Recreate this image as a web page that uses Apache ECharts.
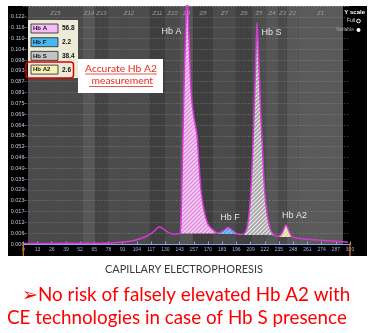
<!DOCTYPE html>
<html><head><meta charset="utf-8">
<script src="https://cdn.jsdelivr.net/npm/echarts@6/dist/echarts.min.js"></script>
<style>html,body{margin:0;padding:0;background:#fff}#c{width:369px;height:333px}</style>
</head><body><div id="c"></div>
<script>
// ---------- data ----------
const xTickLabels = ['0','13','26','39','52','65','78','91','104','117','130','143','157','170','183','196','209','222','235','248','261','274','287','300'];
const yTickLabels = ['0.000','0.006','0.012','0.017','0.023','0.029','0.035','0.040','0.046','0.052','0.058','0.064','0.069','0.075','0.081','0.087','0.093','0.098','0.104','0.110','0.116','0.122'];
const zoneNames = ['Z15','Z14','Z13','Z12','Z11','Z10','Z9','Z8','Z7','Z6','Z5','Z4','Z3','Z2','Z1'];
const zoneEdges = [4.3,54.8,65.8,77.8,116.3,130.1,143.9,155.8,174.2,195.3,210.0,222.9,233.9,242.2,252.3,293.6];
const traceX = [0,20,50,80,100.7,113.6,120,124.9,129,132,136.5,142,144.2,145.3,146.7,148.0,149.4,150.5,151.2,152.6,154.0,156.3,159.5,161.4,163.2,165.9,169.6,174.2,178.8,183.4,188.2,192.6,197.4,199.9,202.7,205.4,207.7,209.5,210.9,212.3,213.7,214.6,215.5,216.9,218.3,219.7,221.0,222.9,225.2,227.5,231.1,233.9,237.6,241.2,244.0,246.7,254.0,270.6,293.6,298.2];
const traceY = [0.0003,0.0003,0.0004,0.0006,0.0018,0.0043,0.0068,0.0093,0.0080,0.0066,0.0054,0.0055,0.0060,0.0236,0.0612,0.0934,0.1203,0.1420,0.1257,0.1042,0.0827,0.0693,0.0585,0.0424,0.0290,0.0183,0.0107,0.0075,0.0059,0.0070,0.0088,0.0070,0.0052,0.0051,0.0054,0.0086,0.0183,0.0344,0.0532,0.0773,0.1042,0.1187,0.1095,0.0881,0.0666,0.0505,0.0344,0.0209,0.0118,0.0070,0.0046,0.0040,0.0059,0.0102,0.0070,0.0038,0.0030,0.0021,0.0012,0.0009];
const fractionNames = ['Hb A','Hb F','Hb S','Hb A2'];
const fractionPercents = [56.8, 2.2, 38.4, 2.6];
const fractionStart = [144.2, 178.8, 202.7, 233.9];
const fractionEnd = [178.8, 197.4, 231.1, 246.7];
const fractionBase = [0.0057, 0.0054, 0.0048, 0.0038];

// ---------- styles ----------
const zoneShades = ['#4a4a4a','#575757','#434343','#4c4c4c','#3f3f3f','#4a4a4a','#555555','#3e3e3e','#4b4b4b','#414141','#4d4d4d','#565656','#4a4a4a','#585858','#5a5a5a'];
const fracBg = ['#e48ee2','#4aa8e8','#a4a4a4','#d6d68c'];
const fracFg = ['#fbe2fa','#8fd0f4','#ececec','#f8f8dc'];
const fracKey = ['#f5bdf5','#48b8ee','#c4c4c4','#f6f0b4'];

function hatch(bg, fg){
  const s = 4, c = document.createElement('canvas'); c.width = c.height = s;
  const g = c.getContext('2d'); g.fillStyle = bg; g.fillRect(0,0,s,s);
  g.strokeStyle = fg; g.lineWidth = 1.2; g.beginPath();
  g.moveTo(0,s); g.lineTo(s,0); g.moveTo(-1,1); g.lineTo(1,-1); g.moveTo(s-1,s+1); g.lineTo(s+1,s-1);
  g.stroke(); return c;
}
function fitSize(text, family, weight, w){
  const g = document.createElement('canvas').getContext('2d');
  g.font = weight + ' 100px ' + family; return 100 * w / g.measureText(text).width;
}
function textW(text, font){
  const g = document.createElement('canvas').getContext('2d'); g.font = font; return g.measureText(text).width;
}

const yStep = 0.122 / 21;
const xStep = 300 / 23;
const trace = traceX.map((x, i) => [x, traceY[i]]);

const series = [];
series.push({
  type: 'line', data: [], silent: true, z: 1,
  markArea: {
    silent: true, z: 0.5,
    label: {show: true, position: 'insideTop', distance: 4, color: '#9c9c9c', fontSize: 6, fontStyle: 'italic', fontFamily: 'Liberation Sans'},
    data: zoneNames.map((n, i) => [{name: n, xAxis: zoneEdges[i], itemStyle: {color: zoneShades[i]}}, {xAxis: zoneEdges[i + 1]}])
  }
});
fractionNames.forEach((n, i) => {
  series.push({
    type: 'line', name: n, z: 2, silent: true, symbol: 'none', smooth: 0.25,
    data: trace.filter(p => p[0] >= fractionStart[i] - 1e-6 && p[0] <= fractionEnd[i] + 1e-6),
    lineStyle: {width: 0},
    areaStyle: {origin: fractionBase[i], opacity: 1, color: {image: hatch(fracBg[i], fracFg[i]), repeat: 'repeat'}}
  });
});
series.push({
  type: 'line', name: 'trace', z: 3, silent: true, symbol: 'none', smooth: 0.25,
  data: trace, lineStyle: {color: '#d23ad2', width: 1.5}
});

// ---------- graphics ----------
const G = [];
G.push({type: 'rect', z: -10, silent: true, shape: {x: 8, y: 6, width: 359, height: 250}, style: {fill: '#000'}});
// legend box
G.push({type: 'rect', z: 50, shape: {x: 28, y: 20, width: 50, height: 58}, style: {fill: '#ecebd8'}});
fractionNames.forEach((n, i) => {
  const top = 24 + i * 13.7;
  G.push({type: 'rect', z: 51, shape: {x: 31, y: top, width: 27, height: 9}, style: {fill: fracKey[i], stroke: '#222', lineWidth: 0.8}});
  G.push({type: 'text', z: 52, style: {text: n, x: 33, y: top + 4.7, fill: '#111', font: 'bold 6px "Liberation Sans"', verticalAlign: 'middle'}});
  G.push({type: 'text', z: 52, style: {text: fractionPercents[i].toFixed(1), x: 62, y: top + 4.7, fill: '#111', font: 'bold 6.5px "Liberation Sans"', verticalAlign: 'middle'}});
});
G.push({type: 'rect', z: 53, shape: {x: 26, y: 62, width: 47.5, height: 16, r: 3}, style: {fill: 'none', stroke: '#e00000', lineWidth: 1.5}});
// annotation box
G.push({type: 'rect', z: 50, shape: {x: 78, y: 59, width: 85, height: 34}, style: {fill: '#ffffff'}});
const annLines = ['Accurate Hb A2', ' measurement'];
const annSize = fitSize(annLines[0], 'Lato', 'normal', 72);
annLines.forEach((t, i) => {
  const base = 73.5 + i * 12.5;
  const font = 'normal ' + annSize.toFixed(2) + 'px Lato';
  const w = textW(t, font);
  G.push({type: 'text', z: 52, style: {text: t, x: 121, y: base, fill: '#e8291c', font: font, align: 'center', verticalAlign: 'bottom'}});
  G.push({type: 'line', z: 52, shape: {x1: 121 - w / 2, y1: base + 0.5, x2: 121 + w / 2, y2: base + 0.5}, style: {stroke: '#e8291c', lineWidth: 0.8}});
});
// peak labels
const peakLabelPos = [[171.5, 32], [230, 218], [271.5, 33], [294.5, 216]];
fractionNames.forEach((n, i) => {
  G.push({type: 'text', z: 40, style: {text: n, x: peakLabelPos[i][0], y: peakLabelPos[i][1], fill: '#e6e6e6', font: 'normal 9px "Liberation Sans"', align: 'center', verticalAlign: 'middle'}});
});
// Y scale block
G.push({type: 'text', z: 40, style: {text: 'Y scale', x: 365, y: 12, fill: '#fff', font: 'bold 6px "Liberation Sans"', align: 'right', verticalAlign: 'middle'}});
G.push({type: 'text', z: 40, style: {text: 'Full', x: 355, y: 21, fill: '#ddd', font: 'normal 5px "Liberation Sans"', align: 'right', verticalAlign: 'middle'}});
G.push({type: 'circle', z: 40, shape: {cx: 358.5, cy: 21, r: 1.8}, style: {fill: 'none', stroke: '#fff', lineWidth: 1}});
G.push({type: 'text', z: 40, style: {text: 'Variable', x: 354, y: 30, fill: '#aaa', font: 'normal 5px "Liberation Sans"', align: 'right', verticalAlign: 'middle'}});
G.push({type: 'circle', z: 40, shape: {cx: 358.5, cy: 30, r: 2}, style: {fill: '#fff'}});
// bottom texts
const capText = 'CAPILLARY ELECTROPHORESIS';
const capSize = fitSize(capText, 'Lato', 'normal', 158);
G.push({type: 'text', z: 40, style: {text: capText, x: 184, y: 269, fill: '#3a3a3a', font: 'normal ' + capSize.toFixed(2) + 'px Lato', align: 'center', verticalAlign: 'middle'}});
const red1 = '\u27A2No risk of falsely elevated Hb A2 with';
const red2 = 'CE technologies in case of Hb S presence';
const redSize = fitSize(red2, 'Lato', 'normal', 340);
G.push({type: 'text', z: 40, style: {text: red1, x: 22, y: 300.7 - 0.3 * redSize, fill: '#ff0000', font: 'normal ' + redSize.toFixed(2) + 'px Lato', verticalAlign: 'middle'}});
G.push({type: 'text', z: 40, style: {text: red2, x: 7, y: 323.3 - 0.3 * redSize, fill: '#ff0000', font: 'normal ' + redSize.toFixed(2) + 'px Lato', verticalAlign: 'middle'}});

const chart = echarts.init(document.getElementById('c'), null, {renderer: 'canvas'});
const option = {
  animation: false,
  backgroundColor: '#ffffff',
  grid: {left: 23.3, right: 19, top: 6, bottom: 89},
  xAxis: {
    type: 'value', min: 0, max: 300, interval: xStep, z: 1,
    axisLine: {show: true, lineStyle: {color: '#8aa6e6', width: 1}},
    axisTick: {show: true, inside: true, length: 2.5, lineStyle: {color: '#8aa6e6'}},
    splitLine: {show: false},
    axisLabel: {color: '#9fb6ea', fontSize: 5, margin: 3, fontFamily: 'Liberation Sans',
      formatter: v => xTickLabels[Math.round(v / xStep)] || ''}
  },
  yAxis: {
    type: 'value', min: 0, max: 22 * yStep, interval: yStep, z: 1,
    axisLine: {show: false}, axisTick: {show: false},
    splitLine: {show: true, lineStyle: {type: [1, 2], color: 'rgba(185,185,185,0.45)', width: 1}},
    axisLabel: {color: '#c2c6da', fontSize: 5.5, margin: -3, fontFamily: 'Liberation Sans',
      formatter: v => { const k = Math.round(v / yStep); return k <= 21 ? yTickLabels[k] + '-' : ''; }}
  },
  series: series,
  graphic: G
};
chart.setOption(option);
// orange run markers at start and end of the x range
const px0 = chart.convertToPixel({xAxisIndex: 0}, 0);
const px1 = chart.convertToPixel({xAxisIndex: 0}, 300);
const py0 = chart.convertToPixel({yAxisIndex: 0}, 0);
chart.setOption({graphic: G.concat([
  {type: 'line', z: 45, shape: {x1: px0, y1: py0 - 1, x2: px0, y2: py0 + 12}, style: {stroke: '#e07a20', lineWidth: 1.2}},
  {type: 'line', z: 45, shape: {x1: px1, y1: py0 - 1, x2: px1, y2: py0 + 12}, style: {stroke: '#e07a20', lineWidth: 1.2}}
])});
</script></body></html>
